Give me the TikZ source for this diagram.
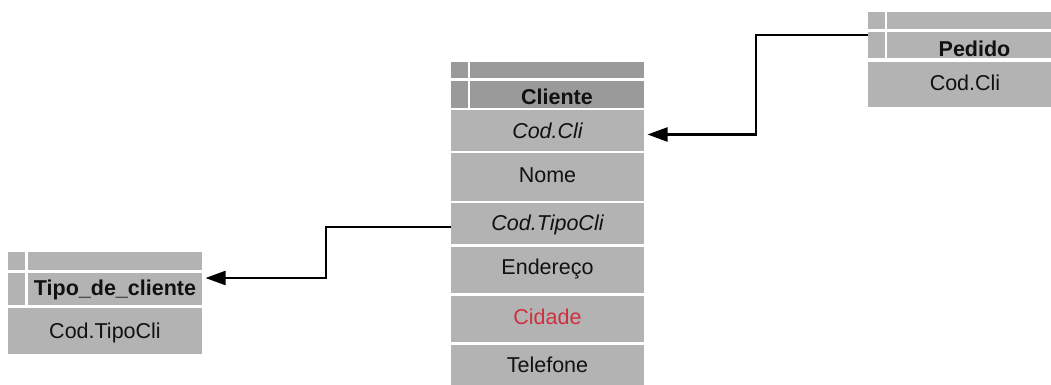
\documentclass[tikz,border=0pt]{standalone}
\usepackage{fontspec}
\setmainfont{Liberation Sans}
\usetikzlibrary{arrows.meta}

\definecolor{headgray}{HTML}{9A9A9A}
\definecolor{bodygray}{HTML}{B3B3B3}
\definecolor{ink}{HTML}{111111}
\definecolor{cityred}{HTML}{D0303E}

\tikzset{
  cellbase/.style={anchor=north west, inner sep=0pt, outer sep=0pt, draw=none,
    fill=bodygray, text=ink, font=\fontsize{21.5}{26}\selectfont},
  % empty cell: width, height
  emptycell/.style 2 args={cellbase, minimum width=#1pt, minimum height=#2pt},
  % text cell: width, height, gap between cell top and cap height
  textcell/.style n args={3}{cellbase, minimum width=#1pt,
    text height={#3pt+15.4pt}, text depth={#2pt-#3pt-15.4pt}},
  tabletitle/.style={font=\fontsize{21.5}{26}\selectfont\bfseries},
  keyfield/.style={font=\fontsize{21.5}{26}\selectfont\itshape},
  fk/.style={draw=black, line width=2.2pt, line join=miter,
    -{Triangle[length=20pt,width=14pt]}, shorten >=3.5pt},
}

\begin{document}
\begin{tikzpicture}[x=1pt, y=-1pt]
\clip (0,0) rectangle (1051,385);

% ---- Cliente ----
\node[emptycell={17}{16}, fill=headgray] (cliTL) at (451,62) {};
\node[emptycell={174}{16}, fill=headgray] (cliTR) at (470,62) {};
\node[emptycell={17}{27}, fill=headgray] (cliHL) at (451,81) {};
\node[textcell={174}{27}{8}, fill=headgray, tabletitle] (cliH) at (470,81) {Cliente};
\node[textcell={193}{41}{13}, keyfield] (cliCod) at (451,110) {Cod.Cli};
\node[textcell={193}{48}{13.7}] (cliNome) at (451,153) {Nome};
\node[textcell={193}{41}{12.4}, keyfield] (cliTipo) at (451,203) {Cod.TipoCli};
\node[textcell={193}{46}{11.7}] (cliEnd) at (451,247) {Endereço};
\node[textcell={193}{46}{12.7}, text=cityred] (cliCid) at (451,296) {Cidade};
\node[textcell={193}{45}{11.7}] (cliTel) at (451,345) {Telefone};

% ---- Pedido ----
\node[emptycell={17}{17}] (pedTL) at (868,12) {};
\node[emptycell={175}{17}] (pedTR) at (887,12) {};
\node[emptycell={17}{26}] (pedHL) at (868,32) {};
\node[textcell={175}{26}{9}, tabletitle] (pedH) at (887,32) {Pedido};
\node[textcell={194}{45}{12.7}] (pedCod) at (868,62) {Cod.Cli};

% ---- Tipo_de_cliente ----
\node[emptycell={17}{18}] (tipTL) at (8,252) {};
\node[emptycell={174}{18}] (tipTR) at (28,252) {};
\node[emptycell={17}{32}] (tipHL) at (8,273) {};
\node[textcell={174}{32}{6.7}, tabletitle] (tipH) at (28,273) {Tipo\_de\_cliente};
\node[textcell={194}{46}{15}] (tipCod) at (8,308) {Cod.TipoCli};

% ---- foreign keys ----
\coordinate (jogA) at (756,0);
\coordinate (jogB) at (326,0);
\coordinate (pedOut) at ([yshift=-3pt]pedHL.north west);
\coordinate (cliIn) at ([yshift=-4pt]cliCod.east);
\coordinate (cliOut) at ([yshift=-3.5pt]cliTipo.west);
\coordinate (tipIn) at ([yshift=-5pt]tipH.north east);

\draw[fk] (pedOut) -| (jogA |- cliIn) -- (cliIn);
\draw[fk] (cliOut) -| (jogB |- tipIn) -- (tipIn);
\end{tikzpicture}
\end{document}
